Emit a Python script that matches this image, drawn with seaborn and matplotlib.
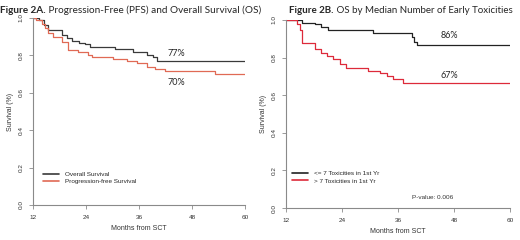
import numpy as np
import pandas as pd
import matplotlib.pyplot as plt
import seaborn as sns

# Figure 2A - OS / PFS
os_month = [12, 13.3, 14.5, 15.3, 18.6, 19.7, 20.8, 22.3, 23.8, 24.9, 30.6, 34.7, 37.8, 39.2, 40, 60]
os_surv = [1.0, 0.99, 0.965, 0.936, 0.909, 0.893, 0.879, 0.868, 0.859, 0.847, 0.834, 0.82, 0.80, 0.79, 0.77, 0.77]
pfs_month = [12, 12.7, 14.0, 14.7, 15.5, 16.6, 18.5, 20.0, 22.2, 24.5, 25.3, 30.1, 33.2, 35.5, 37.8, 39.6, 41.9, 53.2, 60]
pfs_surv = [1.0, 0.99, 0.97, 0.945, 0.918, 0.896, 0.873, 0.829, 0.82, 0.802, 0.79, 0.781, 0.77, 0.758, 0.74, 0.727, 0.717, 0.70, 0.70]

# Figure 2B - OS by toxicities
low_month = [12, 15.4, 18.2, 19.6, 21.0, 30.7, 38.9, 39.4, 40.0, 60]
low_surv = [1.0, 0.986, 0.977, 0.964, 0.947, 0.929, 0.911, 0.885, 0.867, 0.867]
high_month = [12, 14.3, 14.9, 15.4, 18.2, 19.6, 20.7, 22.1, 23.6, 24.9, 29.6, 32.1, 33.6, 34.9, 37.1, 60]
high_surv = [1.0, 0.98, 0.947, 0.876, 0.844, 0.823, 0.809, 0.791, 0.766, 0.746, 0.73, 0.716, 0.702, 0.684, 0.666, 0.666]

xticks = [12, 24, 36, 48, 60]
yticks = [0.0, 0.2, 0.4, 0.6, 0.8, 1.0]

sns.set_style('white')
plt.rcParams['font.family'] = ['Liberation Sans', 'DejaVu Sans']

df_a = pd.concat([
    pd.DataFrame({'month': os_month, 'surv': os_surv, 'group': 'Overall Survival'}),
    pd.DataFrame({'month': pfs_month, 'surv': pfs_surv, 'group': 'Progression-free Survival'}),
])
df_b = pd.concat([
    pd.DataFrame({'month': low_month, 'surv': low_surv, 'group': '<= 7 Toxicities in 1st Yr'}),
    pd.DataFrame({'month': high_month, 'surv': high_surv, 'group': '> 7 Toxicities in 1st Yr'}),
])

fig = plt.figure(figsize=(5.2, 2.4), dpi=100)
ax1 = fig.add_axes([0.0635, 0.146, 0.408, 0.779])
ax2 = fig.add_axes([0.55, 0.133, 0.431, 0.784])

grey = '#8a8a8a'

def style_axis(ax):
    ax.set_xlim(12, 60)
    ax.set_ylim(0, 1)
    ax.set_xticks(xticks)
    ax.set_yticks(yticks)
    ax.set_yticklabels([f'{v:.1f}' for v in yticks], rotation=90, va='center')
    for s in ['top', 'right']:
        ax.spines[s].set_visible(False)
    for s in ['left', 'bottom']:
        ax.spines[s].set_color(grey)
        ax.spines[s].set_linewidth(0.8)
    ax.tick_params(axis='both', length=3, width=0.6, color=grey, labelsize=4.6,
                   labelcolor='#333333', pad=4, direction='out', left=True, bottom=True)
    ax.set_xlabel('Months from SCT', fontsize=5, color='#333333', labelpad=4)
    ax.set_ylabel('Survival (%)', fontsize=5, color='#333333', labelpad=3)

pal_a = {'Overall Survival': '#3a3a3a', 'Progression-free Survival': '#e06a55'}
sns.lineplot(data=df_a, x='month', y='surv', hue='group', palette=pal_a, drawstyle='steps-post',
             estimator=None, sort=False, legend=False, ax=ax1, linewidth=0.9)
style_axis(ax1)
ax1.text(44.5, 0.81, '77%', fontsize=6.5, ha='center', va='center', family=['Lato'])
ax1.text(44.5, 0.655, '70%', fontsize=6.5, ha='center', va='center', family=['Lato'])
h1 = [plt.Line2D([], [], color=c, lw=1.2) for c in pal_a.values()]
ax1.legend(h1, list(pal_a.keys()), loc='lower left', bbox_to_anchor=(0.02, 0.08), frameon=False,
           fontsize=4.6, handlelength=2.5, labelspacing=0.3, handletextpad=1.0)

pal_b = {'<= 7 Toxicities in 1st Yr': '#222222', '> 7 Toxicities in 1st Yr': '#dd2a3a'}
sns.lineplot(data=df_b, x='month', y='surv', hue='group', palette=pal_b, drawstyle='steps-post',
             estimator=None, sort=False, legend=False, ax=ax2, linewidth=0.9)
style_axis(ax2)
ax2.text(47, 0.915, '86%', fontsize=6.5, ha='center', va='center', family=['Lato'])
ax2.text(47, 0.705, '67%', fontsize=6.5, ha='center', va='center', family=['Lato'])
ax2.text(43.5, 0.055, 'P-value: 0.006', fontsize=4.6, ha='center', va='center', color='#333333')
h2 = [plt.Line2D([], [], color=c, lw=1.2) for c in pal_b.values()]
ax2.legend(h2, list(pal_b.keys()), loc='lower left', bbox_to_anchor=(0.0, 0.1), frameon=False,
           fontsize=4.6, handlelength=2.5, labelspacing=0.3, handletextpad=1.0)

# titles: bold prefix followed by normal text
renderer = fig.canvas.get_renderer()
def two_part_title(x, y, bold, rest, size=7.2):
    tb = fig.text(x, y, bold, fontsize=size, fontweight='bold', ha='left', va='center', family=['Lato'])
    bb = tb.get_window_extent(renderer)
    x2 = bb.x1 / fig.bbox.width
    fig.text(x2, y, rest, fontsize=size, ha='left', va='center', family=['Lato'])

two_part_title(0.0, 0.958, 'Figure 2A.', ' Progression-Free (PFS) and Overall Survival (OS)')
two_part_title(0.556, 0.958, 'Figure 2B.', ' OS by Median Number of Early Toxicities', size=7.0)

fig.savefig('out.png', dpi=100)
